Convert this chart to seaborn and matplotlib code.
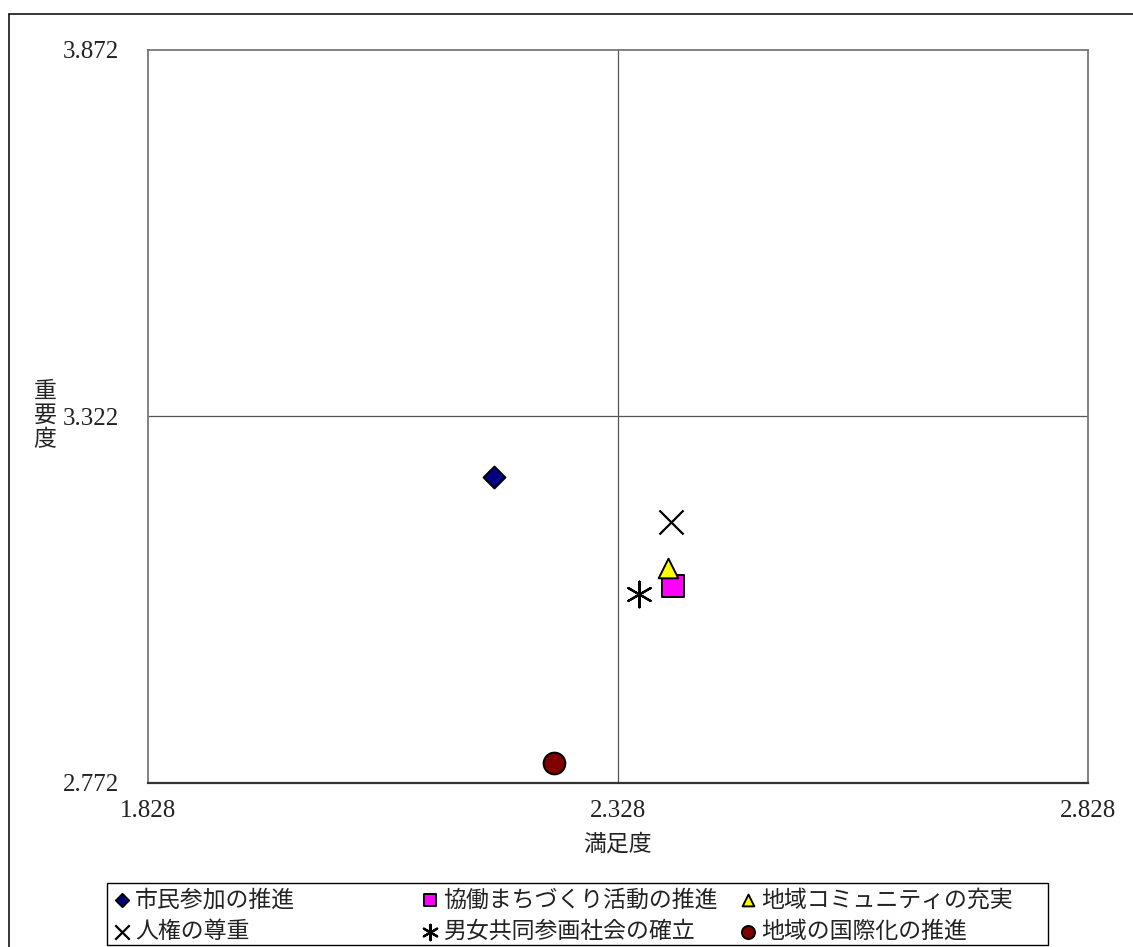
import matplotlib
matplotlib.use("Agg")
import matplotlib.pyplot as plt
from matplotlib.patches import Rectangle
from matplotlib.lines import Line2D
import seaborn as sns
import pandas as pd

# Evaluation results per policy item
categories = [
    "市民参加の推進",
    "協働まちづくり活動の推進",
    "地域コミュニティの充実",
    "人権の尊重",
    "男女共同参画社会の確立",
    "地域の国際化の推進",
]
satisfaction = [2.196, 2.386, 2.381, 2.384, 2.350, 2.260]
importance = [3.231, 3.068, 3.095, 3.164, 3.056, 2.802]

x_ticks = [1.828, 2.328, 2.828]
y_ticks = [2.772, 3.322, 3.872]
x_center = 2.328
y_center = 3.322

# Marker styling per item
markers = ["D", "s", "^", "x", (6, 2, 0), "o"]
face_colors = ["#000080", "#FF00FF", "#FFFF00", "black", "black", "#800000"]
marker_sizes = [125, 235, 200, 300, 340, 245]

sns.set_theme(style="white")
plt.rcParams["font.family"] = ["Liberation Serif", "Noto Sans CJK JP"]
plt.rcParams["axes.unicode_minus"] = False

W, H = 1133, 947
fig = plt.figure(figsize=(W / 100, H / 100), dpi=100)
ax = fig.add_axes([148 / W, (H - 783) / H, 940 / W, 733 / H])

df = pd.DataFrame({"項目": categories, "満足度": satisfaction, "重要度": importance})

for i, row in df.iterrows():
    sub = df.iloc[[i]]
    if markers[i] in ("x",) or isinstance(markers[i], tuple):
        sns.scatterplot(data=sub, x="満足度", y="重要度", ax=ax, marker=markers[i],
                        color="black", s=marker_sizes[i], linewidth=1.6,
                        label=row["項目"], zorder=3)
    else:
        sns.scatterplot(data=sub, x="満足度", y="重要度", ax=ax, marker=markers[i],
                        color=face_colors[i], edgecolor="black", s=marker_sizes[i],
                        linewidth=1.4, label=row["項目"], zorder=3)

# Quadrant dividers
ax.axvline(x_center, color="#555555", lw=0.9, zorder=1)
ax.axhline(y_center, color="#555555", lw=0.9, zorder=1)

ax.set_xlim(x_ticks[0], x_ticks[-1])
ax.set_ylim(y_ticks[0], y_ticks[-1])
ax.set_xticks(x_ticks)
ax.set_yticks(y_ticks)
ax.set_xticklabels([f"{v:.3f}" for v in x_ticks])
ax.set_yticklabels([f"{v:.3f}" for v in y_ticks])
ax.tick_params(axis="both", length=0, labelsize=18, colors="#222222")
ax.tick_params(axis="y", pad=21)
ax.tick_params(axis="x", pad=12)

for side in ["top", "right", "left"]:
    ax.spines[side].set_color("#777777")
    ax.spines[side].set_linewidth(1.3)
ax.spines["bottom"].set_color("#333333")
ax.spines["bottom"].set_linewidth(1.6)

ax.set_xlabel("満足度", fontsize=16.5, color="#222222", va="center")
ax.xaxis.set_label_coords(0.5, -0.0846)
ax.set_ylabel("重\n要\n度", fontsize=16.5, rotation=0, color="#222222",
              va="center", ha="center", linespacing=1.18)
ax.yaxis.set_label_coords(-0.1096, 0.5)

# Legend: framed box with three columns of two entries each
handles, labels = ax.get_legend_handles_labels()
if ax.get_legend() is not None:
    ax.get_legend().remove()
lookup = {lab: h for h, lab in zip(handles, labels)}
columns = [
    [categories[0], categories[3]],
    [categories[1], categories[4]],
    [categories[2], categories[5]],
]
col_x = [113, 421, 739]
for xpos, col in zip(col_x, columns):
    fig.legend([lookup[c] for c in col], col, loc="center left",
               bbox_to_anchor=(xpos / W, 1 - 916.5 / H), frameon=False,
               fontsize=16.5, markerscale=0.6, handlelength=0.8,
               handletextpad=0.15, borderpad=0, borderaxespad=0,
               labelspacing=0.44, labelcolor="#222222")

fig.add_artist(Rectangle((107 / W, 1 - 945 / H), 941 / W, 62 / H,
                         transform=fig.transFigure, fill=False,
                         edgecolor="black", lw=1.0))

# Outer frame
fig.add_artist(Line2D([9 / W, 1], [1 - 14 / H, 1 - 14 / H],
                      transform=fig.transFigure, color="black", lw=1.1))
fig.add_artist(Line2D([9 / W, 9 / W], [0, 1 - 14 / H],
                      transform=fig.transFigure, color="black", lw=1.1))

fig.savefig("out.png", dpi=100)
